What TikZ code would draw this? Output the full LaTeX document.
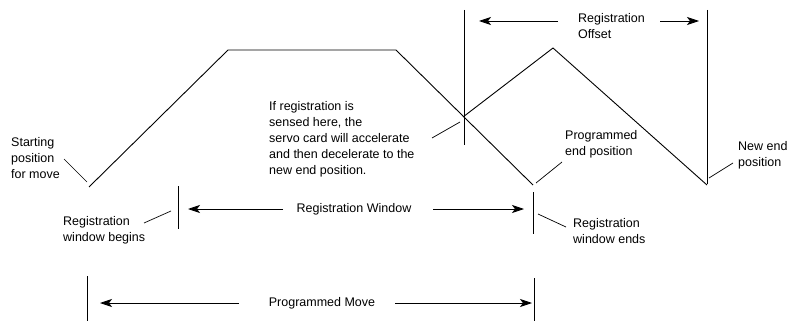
\documentclass[tikz,border=0pt]{standalone}
\usepackage{fontspec}
\setmainfont{Liberation Sans}
\usetikzlibrary{arrows.meta}
\tikzstyle{arrow} = [line width=0.8pt,-{Stealth[length=12pt,width=8pt,inset=3pt]}]
\tikzstyle{notetext} = [align=left, anchor=west, inner sep=0pt, font=\fontsize{12.5}{16}\selectfont]
\tikzstyle{midtext} = [align=center, inner sep=0pt, font=\fontsize{12.5}{16}\selectfont]
\tikzstyle{tick} = [line width=1pt]
\tikzstyle{leader} = [line width=0.7pt]
\tikzstyle{profile} = [line width=0.9pt]

\begin{document}
\begin{tikzpicture}[x=1pt,y=-1pt]
		\useasboundingbox (0,0) rectangle (788,321);
		% move profiles
		\draw[profile] (89,187) -- (228,50) -- (396,50) -- (533,185);
		\draw[profile] (463,117) -- (553,48) -- (707,185);
		% tick lines
		\coordinate (rtop) at (464,10);
		\coordinate (rbot) at (464,145);
		\coordinate (ntop) at (707,10);
		\coordinate (nbot) at (707,184);
		\draw[tick] (rtop) -- (rbot);
		\draw[tick] (ntop) -- (nbot);
		\coordinate (wbtop) at (178,186);
		\coordinate (wbbot) at (178,229);
		\coordinate (wetop) at (533,192);
		\coordinate (webot) at (533,234);
		\draw[tick] (wbtop) -- (wbbot);
		\draw[tick] (wetop) -- (webot);
		\coordinate (pmtop) at (87,276);
		\coordinate (pmbot) at (87,321);
		\coordinate (petop) at (534,278);
		\coordinate (pebot) at (534,321);
		\draw[tick] (pmtop) -- (pmbot);
		\draw[tick] (petop) -- (pebot);
		% texts
		\node (otxt) [notetext] at (578,26) {Registration\\Offset};
		\node (itxt) [notetext] at (269,139) {If registration is\\sensed here, the\\servo card will accelerate\\and then decelerate to the\\new end position.};
		\node (petxt) [notetext] at (565,144) {Programmed\\end position};
		\node (netxt) [notetext] at (738,155) {New end\\position};
		\node (stxt) [notetext] at (11,158) {Starting\\position\\for move};
		\node (wbtxt) [notetext] at (63,230) {Registration\\window begins};
		\node (wetxt) [notetext] at (573,231) {Registration\\window ends};
		\node (wtxt) [midtext] at (354,209) {Registration Window};
		\node (mtxt) [midtext] at (322,303) {Programmed Move};
		% arrows
		\coordinate (oa1) at (558,21);
		\coordinate (oa2) at (479,21);
		\coordinate (oa3) at (660,21);
		\coordinate (oa4) at (699,21);
		\draw[arrow] (oa1) -- (oa2);
		\draw[arrow] (oa3) -- (oa4);
		\coordinate (wa1) at (283,209);
		\coordinate (wa2) at (188,209);
		\coordinate (wa3) at (433,209);
		\coordinate (wa4) at (524,209);
		\draw[arrow] (wa1) -- (wa2);
		\draw[arrow] (wa3) -- (wa4);
		\coordinate (ma1) at (239,303);
		\coordinate (ma2) at (100,303);
		\coordinate (ma3) at (395,303);
		\coordinate (ma4) at (532,303);
		\draw[arrow] (ma1) -- (ma2);
		\draw[arrow] (ma3) -- (ma4);
		% leader lines
		\coordinate (il1) at (432,138);
		\coordinate (il2) at (460,122);
		\draw[leader] (il1) -- (il2);
		\coordinate (pl1) at (536,183);
		\coordinate (pl2) at (562,162);
		\draw[leader] (pl1) -- (pl2);
		\coordinate (nl1) at (709,178);
		\coordinate (nl2) at (733,163);
		\draw[leader] (nl1) -- (nl2);
		\coordinate (sl1) at (64,159);
		\coordinate (sl2) at (87,182);
		\draw[leader] (sl1) -- (sl2);
		\coordinate (bl1) at (144,223);
		\coordinate (bl2) at (171,211);
		\draw[leader] (bl1) -- (bl2);
		\coordinate (el1) at (538,214);
		\coordinate (el2) at (566,227);
		\draw[leader] (el1) -- (el2);
	\end{tikzpicture}
\end{document}
